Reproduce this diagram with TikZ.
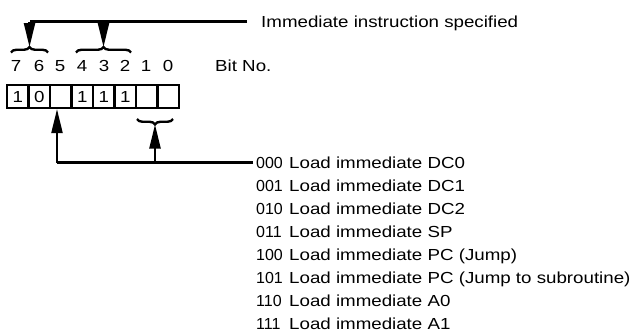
\documentclass[tikz,border=0pt]{standalone}
\usepackage{fontspec}
\setmainfont{Liberation Sans}[FakeStretch=1.17]
\newfontfamily\codefont{Liberation Sans}
\usetikzlibrary{arrows.meta,decorations.pathreplacing}
\begin{document}
\begin{tikzpicture}[x=1pt,y=-1pt,
  every node/.style={font=\fontsize{16}{19}\selectfont,inner sep=0pt},
  cell/.style={draw,line width=2.2pt,minimum width=21.5pt,minimum height=23pt,anchor=center},
  conn/.style={line width=2.2pt},
  arr/.style={line width=2.2pt,-{Triangle[length=24pt,width=11pt]}},
  bracestyle/.style={line width=2.4pt,decorate,decoration={brace,amplitude=5.5pt}},
  bracemirror/.style={line width=2.4pt,decorate,decoration={brace,amplitude=5.5pt,mirror}},
  txt/.style={anchor=base west},
  codetxt/.style={anchor=base west,font=\fontsize{16}{19}\codefont}]
\useasboundingbox (0,0) rectangle (639,333);
% register cells
\node[cell] (b7) at (17.75,96.5) {1};
\node[cell] (b6) at (39.25,96.5) {0};
\node[cell] (b5) at (60.75,96.5) {};
\node[cell] (b4) at (82.25,96.5) {1};
\node[cell] (b3) at (103.75,96.5) {1};
\node[cell] (b2) at (125.25,96.5) {1};
\node[cell] (b1) at (146.75,96.5) {};
\node[cell] (b0) at (168.25,96.5) {};
% bit numbers
\foreach \n/\x in {7/16,6/39,5/60,4/82,3/104,2/125,1/146,0/168}
  \node[anchor=base] (n\n) at (\x,71) {\n};
\node[txt] (bitno) at (215,71.5) {Bit No.};
% headline
\node[txt] (imm) at (261,27) {Immediate instruction specified};
\coordinate (tend) at (247,21.5);
\coordinate (jA) at (29.5,21.5);
\coordinate (jB) at (103.5,21.5);
\coordinate (cuspA) at (29.5,47);
\coordinate (cuspB) at (103.5,47);
\draw[bracestyle] (11,52.5) -- (48,52.5);
\draw[bracestyle] (76,52.5) -- (131,52.5);
\draw[conn] (tend) -- (jA);
\draw[arr] (jA) -- (cuspA);
\draw[arr] (jB) -- (cuspB);
% lower brace and arrows
\draw[bracemirror] (137,119) -- (173,119);
\coordinate (cuspC) at (155,124.5);
\coordinate (bend) at (253,162.5);
\coordinate (jC) at (57,162.5);
\coordinate (jD) at (155,162.5);
\draw[conn] (bend) -- (jC);
\draw[arr] (jC) -- (jC |- b5.south);
\draw[arr] (jD) -- (cuspC);
% list
\foreach \i/\c/\t in {0/000/Load immediate DC0,
                      1/001/Load immediate DC1,
                      2/010/Load immediate DC2,
                      3/011/Load immediate SP,
                      4/100/Load immediate PC (Jump),
                      5/101/Load immediate PC (Jump to subroutine),
                      6/110/Load immediate A0,
                      7/111/Load immediate A1}{
  \node[codetxt] (code\i) at (256,168.7+22.9*\i) {\c};
  \node[txt] (desc\i) at (289,168.7+22.9*\i) {\t};
}
\end{tikzpicture}
\end{document}
